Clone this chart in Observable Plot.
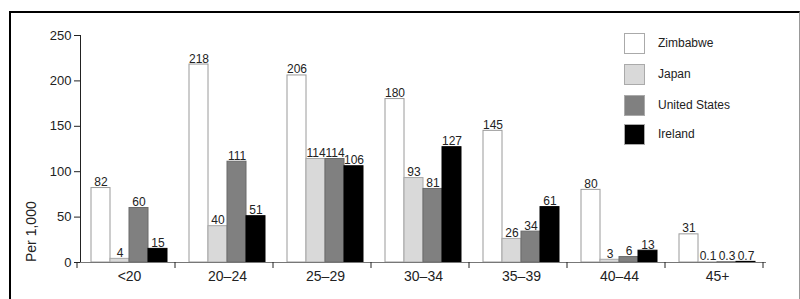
<!DOCTYPE html>
<html>
<head>
<meta charset="utf-8">
<script src="https://cdn.jsdelivr.net/npm/d3@7"></script>
<script src="https://cdn.jsdelivr.net/npm/@observablehq/plot@0.6"></script>
<style>
  html, body { margin: 0; padding: 0; background: #fff; }
  body { width: 800px; height: 299px; position: relative; overflow: hidden; font-family: "Liberation Sans", Arial, sans-serif; }
  #frame { position: absolute; left: 9px; top: 11px; width: 788px; height: 320px; border-top: 2px solid #000; border-left: 2px solid #000; border-right: 1px solid #999; pointer-events: none; }
  #chart { position: absolute; left: 0; top: 0; }
  #ylabel { position: absolute; left: 31px; top: 262px; transform-origin: 0 0; transform: rotate(-90deg) translateY(-50%); font-size: 14px; color: #222; white-space: nowrap; line-height: 16px; }
  #legend { position: absolute; left: 624px; top: 33px; }
  .item { position: absolute; left: 0; width: 160px; height: 20px; }
  .sw { position: absolute; left: 0; top: 0; width: 19px; height: 19px; border: 1px solid #aaa; box-sizing: content-box; }
  .lab { position: absolute; left: 34px; top: 3px; font-size: 12px; color: #222; white-space: nowrap; }
</style>
</head>
<body>
<div id="chart"></div>
<div id="ylabel">Per 1,000</div>
<div id="legend"></div>
<div id="frame"></div>
<script>
const ageGroups = ["<20", "20–24", "25–29", "30–34", "35–39", "40–44", "45+"];
const countries = ["Zimbabwe", "Japan", "United States", "Ireland"];
const zimbabwe = [82, 218, 206, 180, 145, 80, 31];
const japan = [4, 40, 114, 93, 26, 3, 0.1];
const unitedStates = [60, 111, 114, 81, 34, 6, 0.3];
const ireland = [15, 51, 106, 127, 61, 13, 0.7];
const yTicks = [0, 50, 100, 150, 200, 250];
const fills = ["#ffffff", "#d9d9d9", "#808080", "#000000"];
const strokes = ["#9a9a9a", "#a8a8a8", "#6a6a6a", "#000000"];

const seriesValues = [zimbabwe, japan, unitedStates, ireland];
const rows = [];
ageGroups.forEach((age, i) => {
  countries.forEach((c, j) => rows.push({age, country: c, value: seriesValues[j][i]}));
});

const plot = Plot.plot({
  width: 800,
  height: 299,
  marginLeft: 77,
  marginRight: 32,
  marginTop: 35,
  marginBottom: 37,
  style: {fontFamily: "'Liberation Sans', Arial, sans-serif", fontSize: "13px", color: "#222", background: "transparent"},
  fx: {domain: ageGroups, padding: 0, label: null, tickSize: 0, tickPadding: 9},
  x: {domain: countries, paddingInner: 0, paddingOuter: 0.5, axis: null},
  y: {domain: [0, 250], ticks: yTicks, tickSize: 6, tickPadding: 3, label: null, line: true},
  color: {domain: countries, range: fills},
  marks: [
    Plot.barY(rows, {fx: "age", x: "country", y: "value", fill: "country", stroke: d => strokes[countries.indexOf(d.country)], strokeWidth: 1}),
    Plot.ruleY([0], {stroke: "#777"}),
    Plot.text(rows, {fx: "age", x: "country", y: "value", text: d => String(d.value), lineAnchor: "bottom", dy: -2, fontSize: 12, fill: "#222"})
  ]
});
document.getElementById("chart").appendChild(plot);

const svg = d3.select(plot);
svg.selectAll('g[aria-label="y-axis tick label"]').attr("font-size", 13).selectAll("text").style("font-size", "13px");
svg.selectAll('g[aria-label="fx-axis tick label"]').attr("font-size", 14).selectAll("text").style("font-size", "14px");

// boundary ticks between age groups, from the fx and y scales
const fxS = plot.scale("fx");
const yS = plot.scale("y");
const y0 = yS.range[0];
const bounds = d3.range(ageGroups.length + 1).map(i => fxS.range[0] + i * fxS.step);
svg.append("g").selectAll("line").data(bounds).join("line")
  .attr("x1", d => d).attr("x2", d => d)
  .attr("y1", y0).attr("y2", y0 + 6)
  .attr("stroke", "#222").attr("stroke-width", 1);

// legend
const legend = d3.select("#legend");
const offsets = [0, 31, 62, 91];
countries.forEach((c, j) => {
  const it = legend.append("div").attr("class", "item").style("top", offsets[j] + "px");
  it.append("div").attr("class", "sw").style("background", fills[j]);
  it.append("div").attr("class", "lab").text(c);
});
</script>
</body>
</html>
